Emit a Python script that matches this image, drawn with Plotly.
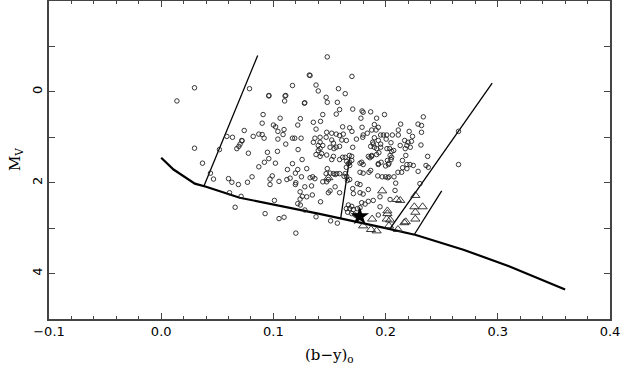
import plotly.graph_objects as go

# open circles: (b-y)0, Mv
circ_x = [0.014, 0.0297, 0.0787, 0.117, 0.132, 0.096, 0.111, 0.110, 0.128, 0.0908,
          0.106, 0.124, 0.090, 0.100, 0.102, 0.1217, 0.074, 0.087, 0.090, 0.104,
          0.1095, 0.1086, 0.082, 0.0917, 0.104, 0.117, 0.119, 0.1247, 0.0585, 0.0635,
          0.0718, 0.0703, 0.111, 0.0297, 0.0368, 0.0439, 0.0519, 0.0674, 0.0692, 0.0721,
          0.0777, 0.087, 0.092, 0.0959, 0.1018, 0.1036, 0.081, 0.060, 0.099, 0.1125,
          0.117, 0.122, 0.1256, 0.1196, 0.1217, 0.125, 0.1297, 0.135, 0.138, 0.138,
          0.1356, 0.1356, 0.1276, 0.1327, 0.138, 0.1104, 0.0959, 0.0947, 0.1149, 0.112,
          # lower left
          0.0466, 0.063, 0.0688, 0.0769, 0.0609, 0.0712, 0.0659, 0.097, 0.097, 0.105,
          0.1009, 0.0926, 0.105, 0.1095, 0.120, 0.120, 0.1196, 0.128, 0.134, 0.1258,
          0.1297, 0.1238, 0.1217, 0.128, 0.1347, 0.1238, 0.142, 0.151, 0.157, 0.124,
          0.138,
          # upper right
          0.148, 0.170, 0.140, 0.158, 0.164, 0.147, 0.148, 0.157, 0.159, 0.156,
          0.1707, 0.179, 0.180, 0.1867, 0.199, 0.178, 0.192, 0.144, 0.142, 0.1617,
          0.168, 0.170, 0.179, 0.1876, 0.190, 0.1935, 0.1915, 0.1837, 0.180, 0.1475,
          0.152, 0.156, 0.159, 0.1623, 0.147, 0.1416, 0.137, 0.1416, 0.152, 0.1535,
          0.161, 0.165, 0.174, 0.1796, 0.190, 0.1935, 0.1956, 0.198, 0.201, 0.2005,
          0.2048, 0.206, 0.2113, 0.2113, 0.2134, 0.221, 0.224, 0.2289, 0.232, 0.232,
          0.2336, 0.217, 0.220, 0.223, 0.2315, 0.265, 0.189, 0.1956,
          # lower right
          0.140, 0.144, 0.1505, 0.154, 0.159, 0.156, 0.1707, 0.1956, 0.192, 0.190,
          0.1867, 0.1885, 0.2012, 0.2036, 0.2072, 0.204, 0.2048, 0.203, 0.200, 0.1935,
          0.1876, 0.1846, 0.192, 0.194, 0.1787, 0.1772, 0.180, 0.1772, 0.180, 0.1867,
          0.1852, 0.1698, 0.1698, 0.168, 0.1668, 0.168, 0.165, 0.1617, 0.140, 0.1416,
          0.143, 0.1416, 0.152, 0.159, 0.148, 0.1535, 0.155, 0.1565, 0.215, 0.219,
          0.211, 0.2143, 0.2075, 0.203, 0.193, 0.197, 0.200, 0.202, 0.2247, 0.229,
          0.236, 0.238, 0.2375, 0.265, 0.213, 0.219, 0.2175, 0.222, 0.1475, 0.1535,
          0.164, 0.1677, 0.1653, 0.186, 0.1876, 0.1935, 0.196, 0.2016, 0.2025, 0.2054,
          0.218, 0.219, 0.2152, 0.2217, 0.2306, 0.2054, 0.1327, 0.137, 0.144, 0.1475,
          0.149, 0.147, 0.1505, 0.159, 0.164, 0.1653, 0.163, 0.1505, 0.149, 0.155,
          0.159, 0.1707, 0.1748, 0.1772, 0.1713, 0.1772, 0.180, 0.1846, 0.166, 0.168,
          0.195, 0.204, 0.2084, 0.209, 0.1846, 0.189, 0.1787, 0.1817, 0.195, 0.1668,
          0.1698, 0.168, 0.1713, 0.1748, 0.1772, 0.165, 0.1662, 0.1698, 0.1728, 0.1743,
          0.1935]
circ_y = [0.20, -0.09, -0.07, -0.14, -0.37, 0.08, 0.08, 0.20, 0.24, 0.50,
          0.58, 0.59, 0.69, 0.73, 0.77, 0.73, 0.85, 0.93, 0.94, 0.87,
          0.83, 0.94, 0.98, 1.02, 1.04, 1.02, 1.02, 1.02, 0.98, 1.00,
          1.07, 1.15, 1.15, 1.24, 1.57, 1.79, 1.27, 1.25, 1.20, 1.08,
          1.35, 1.65, 1.55, 1.47, 1.57, 1.31, 1.87, 1.91, 1.85, 1.71,
          1.58, 1.27, 1.49, 1.79, 1.71, 1.87, 1.69, 1.87, 1.38, 0.82,
          0.67, 1.11, 0.25, -0.36, -0.15, 0.09, 0.09, 1.33, 1.90, 1.93,
          # lower left
          1.92, 1.99, 2.04, 1.99, 2.22, 2.30, 2.54, 1.92, 2.04, 1.97,
          2.39, 2.68, 2.79, 2.76, 3.11, 2.00, 2.04, 2.09, 2.07, 2.30,
          2.31, 2.36, 2.46, 2.60, 2.27, 2.20, 2.42, 2.84, 2.89, 2.49,
          2.75,
          # upper right
          -0.77, -0.34, -0.02, -0.07, 0.04, 0.12, 0.23, 0.23, 0.39, 0.49,
          0.38, 0.42, 0.45, 0.44, 0.50, 0.58, 0.58, 0.50, 0.65, 0.77,
          0.79, 0.87, 0.78, 0.84, 0.72, 0.78, 0.84, 0.91, 0.95, 0.89,
          0.91, 0.93, 0.96, 0.93, 1.00, 1.00, 1.02, 1.11, 1.06, 1.13,
          1.06, 1.07, 1.04, 1.00, 1.01, 1.07, 0.95, 0.95, 0.95, 1.04,
          1.12, 0.95, 0.95, 0.84, 0.71, 0.87, 0.98, 0.71, 0.74, 0.89,
          0.55, 1.07, 1.11, 1.09, 1.17, 0.87, 1.15, 1.15,
          # lower right
          1.18, 1.18, 1.22, 1.25, 1.20, 1.22, 1.22, 1.22, 1.25, 1.22,
          1.20, 1.11, 1.25, 1.25, 1.29, 1.40, 1.49, 1.57, 1.63, 1.58,
          1.42, 1.42, 1.38, 1.34, 1.55, 1.57, 1.60, 1.77, 1.79, 1.73,
          1.77, 1.42, 1.51, 1.55, 1.58, 1.62, 1.66, 1.44, 1.29, 1.25,
          1.36, 1.42, 1.49, 1.49, 1.69, 1.80, 1.82, 1.80, 1.51, 1.69,
          1.77, 1.77, 1.87, 1.87, 1.85, 1.87, 1.87, 1.89, 1.62, 1.75,
          1.62, 1.66, 1.42, 1.60, 1.18, 1.18, 1.25, 1.22, 1.39, 1.42,
          1.44, 1.40, 1.53, 1.45, 1.40, 1.60, 1.55, 1.51, 1.60, 1.44,
          1.40, 1.60, 1.67, 1.60, 2.02, 1.31, 1.89, 1.91, 1.98, 1.98,
          1.93, 1.80, 1.79, 1.80, 1.80, 1.86, 1.86, 2.18, 2.22, 2.09,
          2.22, 2.13, 2.02, 2.04, 2.24, 2.22, 2.25, 2.15, 1.95, 1.93,
          2.31, 2.37, 2.17, 2.01, 2.41, 2.39, 2.44, 2.47, 2.53, 2.49,
          2.52, 2.57, 2.59, 2.57, 2.55, 2.57, 2.65, 2.68, 2.71, 2.73,
          2.71]

# open triangles
tri_x = [0.149, 0.197, 0.2265, 0.213, 0.2256, 0.233, 0.2265, 0.2265, 0.218, 0.2167,
         0.2016, 0.2016, 0.201, 0.204, 0.188, 0.180, 0.187, 0.192, 0.211, 0.203, 0.210]
tri_y = [1.89, 2.18, 2.28, 2.39, 2.53, 2.53, 2.65, 2.80, 2.86, 2.88,
         2.62, 2.68, 2.80, 2.82, 2.80, 2.95, 3.03, 3.06, 3.03, 2.95, 2.37]

# filled star
star_x = [0.177]
star_y = [2.74]

# ZAMS
zams_x = [0.0, 0.011, 0.03, 0.04, 0.07, 0.14, 0.20, 0.227, 0.27, 0.31, 0.36]
zams_y = [1.45, 1.71, 2.02, 2.09, 2.33, 2.68, 3.00, 3.15, 3.48, 3.84, 4.35]

# thin boundary lines
seg_x = [[0.038, 0.086], [0.160, 0.168], [0.204, 0.295], [0.2256, 0.250]]
seg_y = [[2.08, -0.80], [2.78, 1.45], [3.01, -0.19], [3.14, 2.18]]

fig = go.Figure()
for sx, sy in zip(seg_x, seg_y):
    fig.add_trace(go.Scatter(x=sx, y=sy, mode='lines',
                             line=dict(color='black', width=1.3), showlegend=False))
fig.add_trace(go.Scatter(x=zams_x, y=zams_y, mode='lines',
                         line=dict(color='black', width=2.2), showlegend=False))
fig.add_trace(go.Scatter(x=circ_x, y=circ_y, mode='markers',
                         marker=dict(symbol='circle-open', size=4.5, color='#222',
                                     line=dict(width=0.9)),
                         showlegend=False))
fig.add_trace(go.Scatter(x=tri_x, y=tri_y, mode='markers',
                         marker=dict(symbol='triangle-up-open', size=8, color='#222',
                                     line=dict(width=0.9)),
                         showlegend=False))
fig.add_trace(go.Scatter(x=star_x, y=star_y, mode='markers',
                         marker=dict(symbol='star', size=14, color='black'),
                         showlegend=False))

axis_common = dict(showline=True, linecolor='#444', linewidth=1.5, mirror='allticks',
                   ticks='inside', ticklen=6, tickwidth=1.3, tickcolor='#444',
                   showgrid=False, zeroline=False, automargin=False,
                   tickfont=dict(family='DejaVu Sans, Arial', size=13, color='black'))

fig.update_xaxes(range=[-0.1, 0.4], dtick=0.1, tickformat='.1f',
                 minor=dict(ticks='inside', dtick=0.02, ticklen=3, tickcolor='#444'),
                 **axis_common)
fig.update_yaxes(range=[5, -2], tickvals=[0, 2, 4], tickangle=-90,
                 minor=dict(ticks='inside', tickvals=[-1, 1, 3], ticklen=6, tickcolor='#444'),
                 **axis_common)

title_font = dict(family='DejaVu Serif, Times New Roman', size=15, color='black')
fig.add_annotation(text='(b−y)<sub>o</sub>', xref='paper', yref='paper', x=0.5, y=0,
                   yshift=-36, yanchor='middle', showarrow=False, font=title_font)
fig.add_annotation(text='M<sub>V</sub>', xref='paper', yref='paper', x=0, y=0.5,
                   xshift=-34, xanchor='center', textangle=-90, showarrow=False, font=title_font)

fig.update_layout(width=622, height=367, plot_bgcolor='white', paper_bgcolor='white',
                  margin=dict(l=49, r=12, t=1, b=48))

fig.write_html("out.html", config={'displayModeBar': False},
               post_script="document.body.style.margin='0';")
